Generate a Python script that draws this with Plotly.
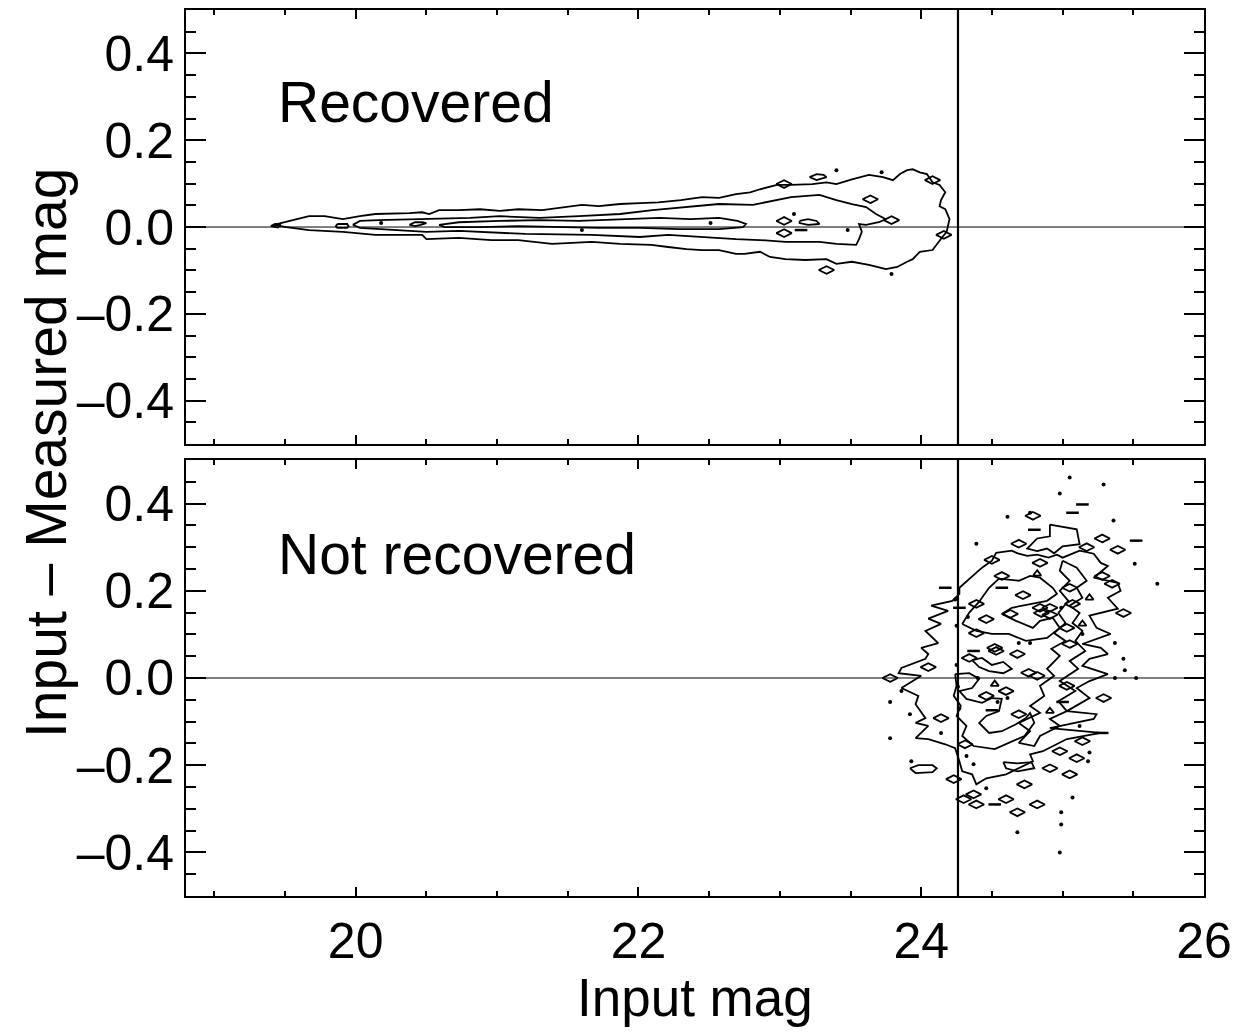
import plotly.graph_objects as go

# ---------------- data (input mag, input - measured mag) ----------------
# Top panel: recovered stars, three contour levels
TOP_OUTER = [(19.42,0.005),(19.55,0.016),(19.67,0.025),(19.78,0.025),(19.91,0.018),(20.03,0.025),(20.14,0.030),
             (20.38,0.032),(20.47,0.034),(20.52,0.030),(20.59,0.039),(20.73,0.039),(20.88,0.041),(21.02,0.037),
             (21.15,0.041),(21.32,0.039),(21.44,0.044),(21.60,0.051),(21.72,0.048),(21.87,0.053),(22.01,0.055),
             (22.14,0.057),(22.30,0.062),(22.45,0.069),(22.57,0.067),(22.69,0.076),(22.79,0.080),(22.86,0.087),
             (22.98,0.097),(23.08,0.097),(23.23,0.099),(23.33,0.103),(23.40,0.099),(23.51,0.110),(23.63,0.120),
             (23.73,0.115),(23.80,0.108),(23.85,0.122),(23.90,0.131),(23.94,0.133),(23.99,0.126),(24.04,0.122),
             (24.08,0.103),(24.13,0.097),(24.17,0.080),(24.14,0.062),(24.13,0.048),(24.17,0.041),(24.20,0.018),
             (24.18,-0.011),(24.15,-0.023),(24.11,-0.041),(24.08,-0.053),(23.99,-0.057),(23.94,-0.074),
             (23.90,-0.080),(23.83,-0.092),(23.75,-0.097),(23.63,-0.087),(23.51,-0.080),(23.40,-0.085),
             (23.33,-0.074),(23.18,-0.076),(23.04,-0.074),(22.93,-0.069),(22.86,-0.057),(22.75,-0.062),
             (22.69,-0.062),(22.57,-0.053),(22.45,-0.053),(22.34,-0.051),(22.21,-0.046),(22.09,-0.041),
             (21.87,-0.039),(21.67,-0.034),(21.39,-0.039),(21.15,-0.030),(20.96,-0.030),(20.73,-0.025),
             (20.50,-0.028),(20.47,-0.018),(20.26,-0.018),(20.14,-0.018),(19.91,-0.011),(19.67,-0.007),
             (19.51,0.000),(19.42,0.005)]
TOP_MIDDLE = [(19.98,0.005),(20.03,0.014),(20.16,0.016),(20.45,0.018),(20.81,0.021),(21.02,0.025),(21.30,0.021),
              (21.58,0.025),(21.87,0.030),(22.10,0.039),(22.34,0.046),(22.57,0.053),(22.81,0.051),(23.00,0.064),
              (23.08,0.069),(23.28,0.074),(23.40,0.062),(23.51,0.053),(23.61,0.046),(23.68,0.030),(23.75,0.018),
              (23.70,0.011),(23.61,0.005),(23.56,0.007),(23.58,-0.011),(23.56,-0.028),(23.54,-0.041),
              (23.40,-0.039),(23.28,-0.034),(23.04,-0.034),(22.86,-0.030),(22.69,-0.028),(22.45,-0.023),
              (22.21,-0.018),(22.01,-0.023),(21.67,-0.018),(21.20,-0.016),(20.73,-0.009),(20.50,-0.011),
              (20.26,-0.007),(20.03,-0.002),(19.98,0.005)]
TOP_INNER = [(20.59,0.005),(20.73,0.011),(21.02,0.014),(21.30,0.016),(21.58,0.014),(21.87,0.018),(22.15,0.021),
             (22.37,0.018),(22.57,0.021),(22.70,0.014),(22.76,0.007),(22.74,0.000),(22.57,-0.005),(22.29,-0.005),
             (22.01,-0.002),(21.72,-0.002),(21.44,0.000),(21.15,0.002),(20.88,0.000),(20.63,0.000),(20.59,0.005)]
TOP_ISLANDS = [
    [(19.40,0.002),(19.43,0.007),(19.47,0.005),(19.45,-0.001),(19.40,0.002)],
    [(19.87,0.007),(19.94,0.007),(19.95,0.002),(19.94,-0.002),(19.87,-0.002),(19.86,0.002),(19.87,0.007)],
    [(20.38,0.005),(20.42,0.011),(20.47,0.011),(20.50,0.009),(20.46,0.005),(20.42,0.002),(20.38,0.005)],
    [(23.21,0.115),(23.26,0.122),(23.31,0.120),(23.33,0.115),(23.26,0.108),(23.21,0.115)],
    [(23.14,0.014),(23.20,0.018),(23.26,0.014),(23.28,0.007),(23.20,0.005),(23.14,0.009),(23.14,0.014)],
]
TOP_DIAMONDS = [(23.03,0.099),(23.64,0.064),(24.08,0.108),(23.33,-0.099),(23.03,0.014),(23.03,-0.014),
                (23.79,0.016),(24.16,-0.018)]
TOP_DOTS = [(20.18,0.009),(21.60,-0.007),(23.40,0.131),(23.72,0.126),(23.79,-0.108),(22.51,0.009),
            (23.10,0.030),(23.48,-0.007)]
TOP_DASHES = [(23.15,-0.007)]

# Bottom panel: not-recovered stars
BOT_OUTER = [(24.27,0.207),(24.34,0.228),(24.43,0.253),(24.50,0.269),(24.53,0.287),(24.64,0.292),(24.69,0.285),
             (24.75,0.280),(24.82,0.283),(24.90,0.276),(24.96,0.283),(25.00,0.276),(25.05,0.283),
             (25.12,0.292),(25.22,0.285),(25.27,0.264),(25.32,0.257),(25.22,0.230),(25.39,0.218),(25.41,0.200),
             (25.32,0.184),(25.39,0.159),(25.19,0.143),(25.24,0.115),(25.34,0.101),(25.14,0.078),(25.27,0.069),
             (25.32,0.055),(25.19,0.044),(25.14,0.028),(25.32,0.009),(25.19,-0.007),(25.10,-0.023),
             (25.19,-0.046),(25.03,-0.076),(25.24,-0.083),(25.22,-0.094),(24.91,-0.115),(25.27,-0.126),
             (25.03,-0.140),(24.86,-0.168),(24.77,-0.175),(24.79,-0.191),(24.60,-0.221),(24.46,-0.230),
             (24.39,-0.244),(24.36,-0.221),(24.29,-0.214),(24.27,-0.191),(24.24,-0.161),(24.17,-0.152),
             (24.05,-0.140),(23.96,-0.138),(24.05,-0.110),(23.96,-0.103),(24.03,-0.092),(23.96,-0.060),
             (23.98,-0.041),(23.86,-0.023),(24.00,0.005),(23.84,0.011),(23.86,0.023),(24.03,0.044),
             (24.05,0.055),(24.00,0.069),(24.12,0.080),(24.03,0.108),(24.14,0.124),(24.05,0.136),(24.19,0.154),
             (24.07,0.166),(24.22,0.177),(24.27,0.193),(24.27,0.207)]
BOT_INNER = [
    [(24.29,0.124),(24.34,0.150),(24.41,0.175),(24.48,0.207),(24.55,0.228),(24.69,0.223),(24.77,0.234),
     (24.84,0.230),(24.93,0.207),(24.96,0.193),(24.89,0.177),(24.77,0.170),(24.64,0.161),(24.57,0.147),
     (24.67,0.131),(24.79,0.115),(24.84,0.131),(24.93,0.138),(24.98,0.115),(24.89,0.092),(24.74,0.085),
     (24.62,0.101),(24.50,0.101),(24.39,0.108),(24.29,0.124)],
    [(25.00,0.269),(25.10,0.253),(25.17,0.223),(25.10,0.207),(25.14,0.184),(25.05,0.166),(25.12,0.149),
     (25.07,0.126),(25.14,0.108),(25.09,0.085),(25.16,0.062),(25.05,0.039),(25.11,0.021),(24.98,-0.007),
     (25.09,-0.030),(24.97,-0.053),(25.03,-0.076),(24.91,-0.094),(24.98,-0.110),(24.84,-0.133),
     (24.80,-0.156),(24.69,-0.149),(24.77,-0.122),(24.69,-0.103),(24.84,-0.080),(24.77,-0.064),
     (24.87,-0.041),(24.84,-0.018),(24.94,0.005),(24.89,0.021),(24.98,0.051),(24.92,0.067),(25.02,0.085),
     (24.94,0.103),(25.02,0.126),(24.97,0.149),(25.04,0.177),(24.98,0.200),(25.05,0.223),(24.98,0.246),
     (25.00,0.269)],
    [(24.24,0.009),(24.34,0.011),(24.41,-0.002),(24.36,-0.023),(24.27,-0.030),(24.32,-0.048),(24.43,-0.057),
     (24.50,-0.046),(24.57,-0.048),(24.55,-0.076),(24.46,-0.087),(24.41,-0.103),(24.48,-0.126),
     (24.57,-0.122),(24.67,-0.106),(24.74,-0.092),(24.77,-0.080),(24.80,-0.103),(24.73,-0.133),
     (24.62,-0.149),(24.52,-0.163),(24.37,-0.156),(24.29,-0.133),(24.32,-0.110),(24.25,-0.087),
     (24.28,-0.064),(24.23,-0.041),(24.25,-0.018),(24.24,0.009)],
    [(23.92,-0.207),(23.98,-0.200),(24.08,-0.200),(24.11,-0.207),(24.08,-0.216),(23.96,-0.218),(23.92,-0.207)],
    [(24.58,-0.193),(24.68,-0.196),(24.78,-0.193),(24.80,-0.207),(24.68,-0.214),(24.60,-0.207),(24.58,-0.193)],
    [(24.91,0.352),(25.10,0.341),(25.12,0.307),(25.00,0.302),(24.94,0.286),(24.89,0.297),(24.82,0.291),
     (24.75,0.297),(24.82,0.320),(24.91,0.325),(24.91,0.352)],
    [(24.36,0.041),(24.43,0.046),(24.50,0.030),(24.58,0.037),(24.64,0.021),(24.58,0.011),(24.48,0.016),
     (24.41,0.025),(24.36,0.041)],
]
BOT_DIAMONDS = [(24.79,0.372),(24.69,0.308),(24.84,0.264),(24.50,0.271),(24.57,0.234),(25.28,0.320),(25.17,0.300),
                (25.39,0.294),(25.05,0.207),(25.28,0.234),(25.35,0.216),(25.07,0.170),(25.43,0.149),(24.39,0.170),
                (24.84,0.161),(24.91,0.161),(24.85,0.149),(24.91,0.145),(24.63,0.147),(25.03,0.115),(25.05,0.078),
                (24.39,0.103),(24.53,0.062),(23.78,0.000),(24.05,0.025),(24.14,-0.092),(24.34,0.046),(24.52,0.069),
                (24.68,0.055),(24.46,-0.041),(24.69,-0.083),(25.29,-0.046),(25.14,-0.145),(24.98,-0.168),
                (25.10,-0.184),(24.91,-0.207),(25.05,-0.221),(24.73,-0.244),(24.82,-0.290),(24.68,-0.308),
                (24.60,-0.278),(24.39,-0.290),(24.37,-0.267),(24.30,-0.278),(24.31,-0.152),(24.23,-0.232),
                (24.76,0.012),(24.82,0.005),(25.03,-0.018),(24.60,-0.030),(24.72,0.190),(24.46,0.135)]
BOT_DOTS = [(24.77,0.379),(24.61,0.370),(25.05,0.460),(25.29,0.444),(24.98,0.423),(25.36,0.361),(25.51,0.262),
            (25.67,0.216),(24.39,0.308),(24.99,0.161),(25.14,0.101),(25.37,0.080),(24.69,0.080),(24.77,0.080),
            (23.86,-0.030),(23.78,-0.055),(23.92,-0.083),(23.78,-0.138),(23.93,-0.191),(25.43,0.044),
            (25.44,0.018),(25.52,0.000),(25.37,0.000),(24.54,-0.055),(24.61,-0.046),(25.12,-0.110),
            (25.19,-0.171),(25.18,-0.191),(25.07,-0.274),(24.99,-0.308),(24.99,-0.336),(24.68,-0.354),
            (24.98,-0.400),(24.46,-0.253),(24.37,-0.198),(24.32,-0.179),(24.14,-0.126),
            (24.25,0.120),(24.25,0.030),(24.27,-0.070),(24.24,0.180),(24.26,-0.020),(24.33,0.140),(24.40,0.000)]
BOT_DASHES = [(25.14,0.398),(25.07,0.379),(24.80,0.340),(25.52,0.315),(24.57,0.207),(24.17,0.207),(24.27,0.161),
              (24.37,0.062),(24.50,-0.074),(25.00,-0.055),(25.28,-0.126),(24.52,-0.290)]
BOT_TRIANGLES = [(25.19,0.184),(25.14,0.124),(24.82,0.239),(24.52,-0.014),(24.91,-0.076)]

COMPLETENESS_MAG = 24.26
ZERO_LEVEL = 0.0
X_RANGE = [18.8, 26.0]
Y_RANGE = [-0.5, 0.5]
Y_TICKS = [-0.4, -0.2, 0.0, 0.2, 0.4]
Y_TICKTEXT = ["\u20130.4", "\u20130.2", "0.0", "0.2", "0.4"]
PANEL_LABELS = ["Recovered", "Not recovered"]

FONT = "Liberation Sans, Arial, Helvetica, sans-serif"
LW = 1.8


def flatten(polys):
    xs, ys = [], []
    for poly in polys:
        for x, y in poly:
            xs.append(x)
            ys.append(y)
        xs.append(None)
        ys.append(None)
    return xs, ys


def pts(lst):
    return [p[0] for p in lst], [p[1] for p in lst]


fig = go.Figure()


def add_panel(lines, diamonds, dots, dashes, triangles, xa, ya):
    lx, ly = flatten(lines)
    fig.add_trace(go.Scatter(x=lx, y=ly, mode="lines", line=dict(color="black", width=LW),
                             xaxis=xa, yaxis=ya, showlegend=False, hoverinfo="skip"))
    if diamonds:
        x, y = pts(diamonds)
        fig.add_trace(go.Scatter(x=x, y=y, mode="markers", xaxis=xa, yaxis=ya, showlegend=False,
                                 marker=dict(symbol="diamond-wide-open", size=11, color="black",
                                             line=dict(color="black", width=LW))))
    if dots:
        x, y = pts(dots)
        fig.add_trace(go.Scatter(x=x, y=y, mode="markers", xaxis=xa, yaxis=ya, showlegend=False,
                                 marker=dict(symbol="circle", size=4, color="black")))
    if dashes:
        x, y = pts(dashes)
        fig.add_trace(go.Scatter(x=x, y=y, mode="markers", xaxis=xa, yaxis=ya, showlegend=False,
                                 marker=dict(symbol="line-ew", size=9, color="black",
                                             line=dict(color="black", width=2.5))))
    if triangles:
        x, y = pts(triangles)
        fig.add_trace(go.Scatter(x=x, y=y, mode="markers", xaxis=xa, yaxis=ya, showlegend=False,
                                 marker=dict(symbol="triangle-up-open", size=7, color="black",
                                             line=dict(color="black", width=LW))))


add_panel([TOP_OUTER, TOP_MIDDLE, TOP_INNER] + TOP_ISLANDS, TOP_DIAMONDS, TOP_DOTS, TOP_DASHES, [], "x", "y")
add_panel([BOT_OUTER] + BOT_INNER, BOT_DIAMONDS, BOT_DOTS, BOT_DASHES, BOT_TRIANGLES, "x2", "y2")

xcommon = dict(range=X_RANGE, tickmode="linear", tick0=20, dtick=2, ticks="inside", ticklen=9, tickwidth=2,
               tickcolor="black", showline=True, linewidth=2, linecolor="black", mirror="ticks",
               showgrid=False, zeroline=False,
               tickfont=dict(family=FONT, size=50, color="black"),
               minor=dict(ticks="inside", tickmode="linear", tick0=20, dtick=0.5, ticklen=5, tickwidth=2,
                          tickcolor="black", showgrid=False))
ycommon = dict(range=Y_RANGE, tickmode="array", tickvals=Y_TICKS, ticktext=Y_TICKTEXT, ticks="inside",
               ticklen=20, tickwidth=2, tickcolor="black", showline=True, linewidth=2, linecolor="black",
               mirror="ticks", showgrid=False, zeroline=False,
               tickfont=dict(family=FONT, size=50, color="black"),
               minor=dict(ticks="inside", tickmode="linear", tick0=0, dtick=0.05, ticklen=10, tickwidth=2,
                          tickcolor="black", showgrid=False))

# the page body adds an 8px offset, so the figure is 8px smaller than the window
fig.update_layout(
    width=1238, height=1024,
    margin=dict(l=178, r=42, t=0, b=136),
    paper_bgcolor="white", plot_bgcolor="white",
    xaxis=dict(xcommon, anchor="y", showticklabels=False, matches="x2"),
    yaxis=dict(ycommon, domain=[0.5101, 1.0], anchor="x"),
    xaxis2=dict(xcommon, anchor="y2"),
    yaxis2=dict(ycommon, domain=[0.0, 0.4921], anchor="x2"),
)

for ya, xa in (("y", "x"), ("y2", "x2")):
    fig.add_shape(type="line", xref=xa, yref=ya, x0=X_RANGE[0], x1=X_RANGE[1], y0=ZERO_LEVEL, y1=ZERO_LEVEL,
                  line=dict(color="black", width=1))
    fig.add_shape(type="line", xref=xa, yref=ya, x0=COMPLETENESS_MAG, x1=COMPLETENESS_MAG,
                  y0=Y_RANGE[0], y1=Y_RANGE[1], line=dict(color="black", width=2.2))

fig.add_annotation(text=PANEL_LABELS[0], xref="x", yref="y", x=19.44, y=0.288, xanchor="left",
                   yanchor="middle", showarrow=False, font=dict(family=FONT, size=57, color="black"))
fig.add_annotation(text=PANEL_LABELS[1], xref="x2", yref="y2", x=19.44, y=0.285, xanchor="left",
                   yanchor="middle", showarrow=False, font=dict(family=FONT, size=57, color="black"))
fig.add_annotation(text="Input mag", xref="paper", yref="paper", x=0.5, y=0, xanchor="center",
                   yanchor="middle", yshift=-101, showarrow=False, font=dict(family=FONT, size=53, color="black"))
fig.add_annotation(text="Input \u2013 Measured mag", xref="paper", yref="paper", x=0, y=0.5, xanchor="center",
                   yanchor="middle", xshift=-140, textangle=-90, showarrow=False,
                   font=dict(family=FONT, size=57, color="black"))

fig.write_html("out.html")
